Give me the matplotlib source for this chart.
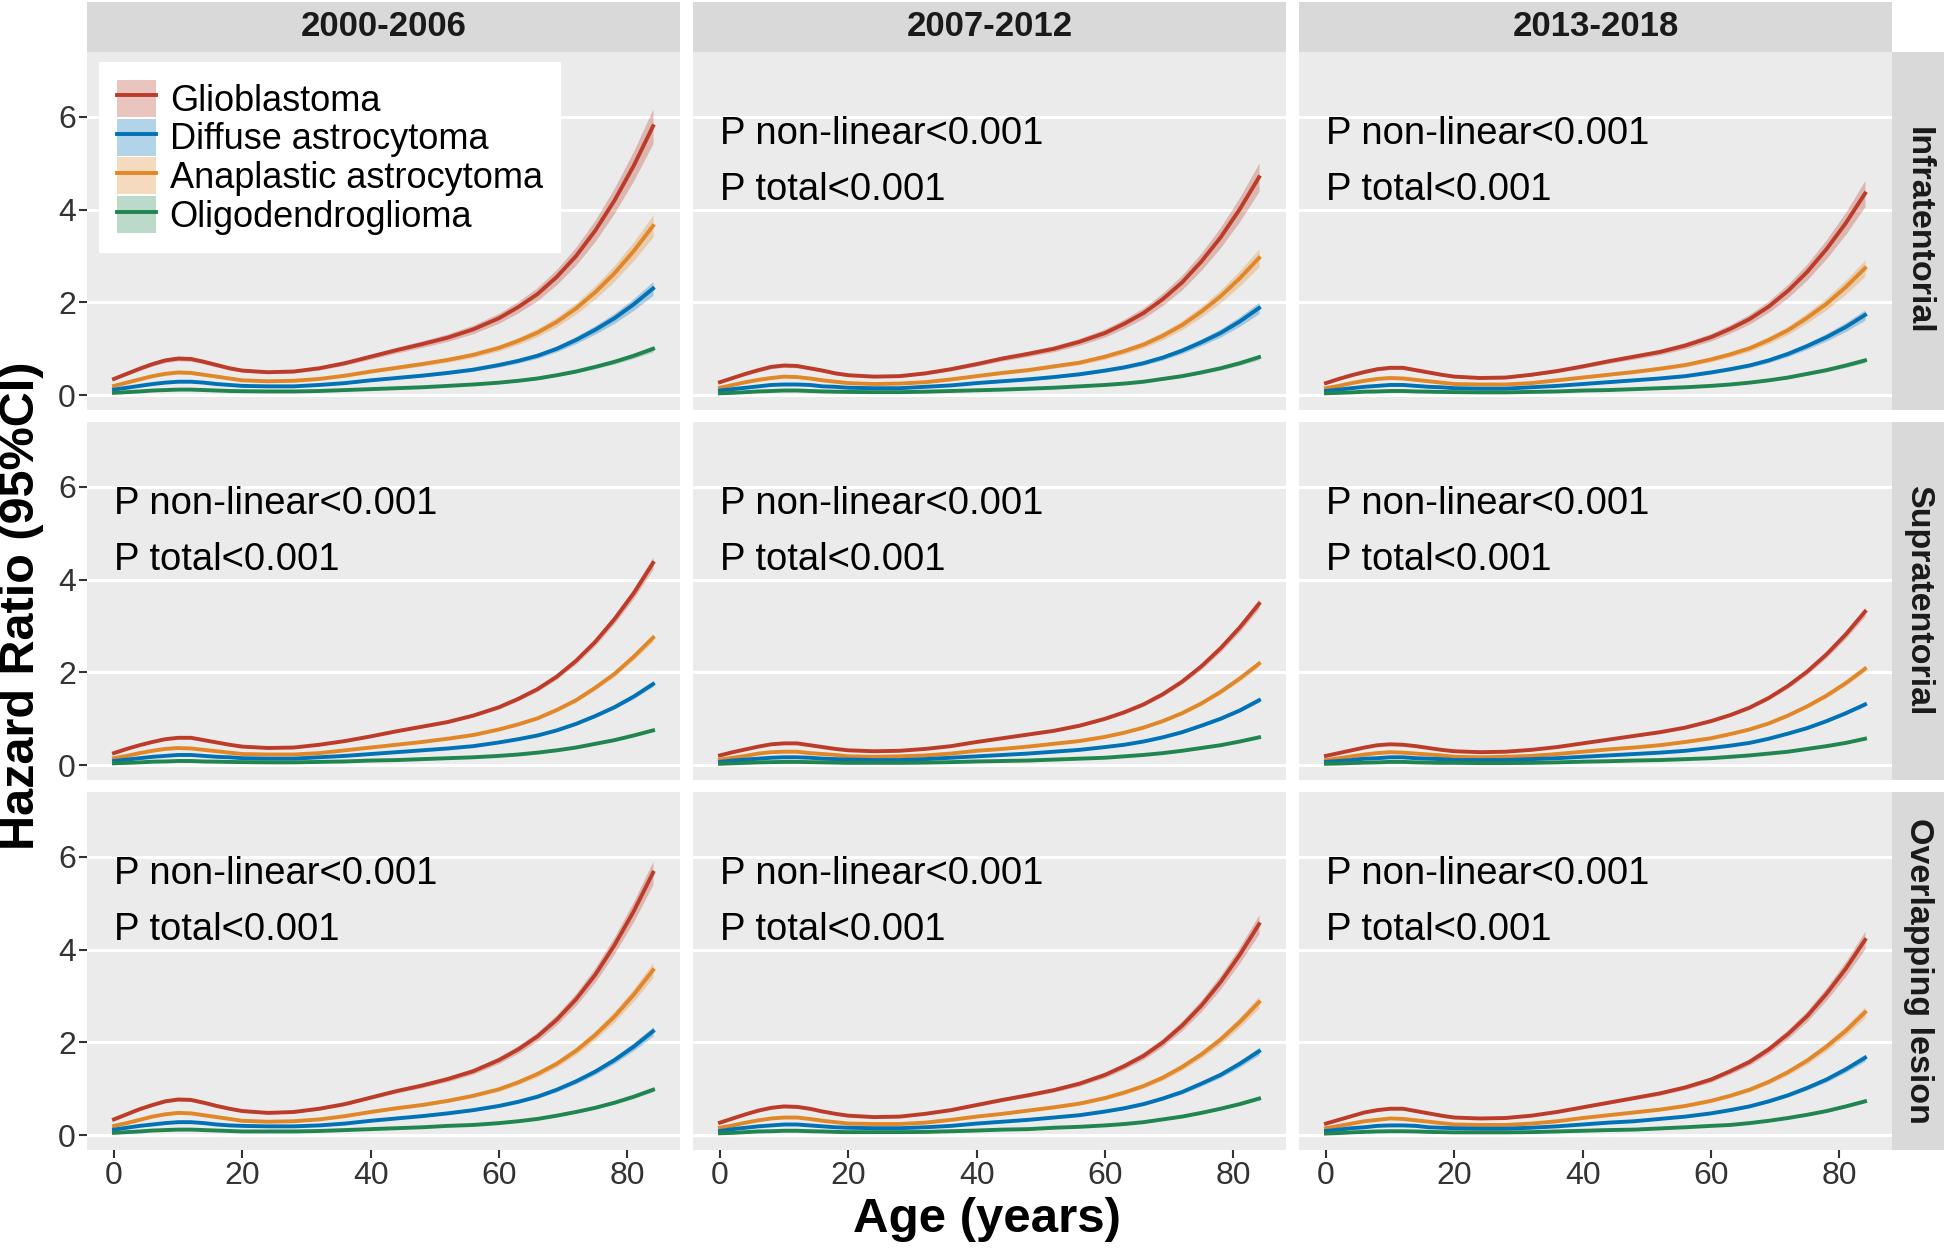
import matplotlib
matplotlib.use('Agg')
import matplotlib.pyplot as plt
from matplotlib.patches import Patch
from matplotlib.lines import Line2D
import numpy as np

plt.rcParams['font.family'] = ['Liberation Sans', 'DejaVu Sans']

# ---- data ----
ages = [0, 2, 4, 6, 8, 10, 12, 14, 16, 18, 20, 24, 28, 32, 36, 40, 44, 48, 52, 56,
        60, 63, 66, 69, 72, 75, 78, 81, 84]

periods = ['2000-2006', '2007-2012', '2013-2018']
sites = ['Infratentorial', 'Supratentorial', 'Overlapping lesion']
histologies = ['Glioblastoma', 'Diffuse astrocytoma', 'Anaplastic astrocytoma', 'Oligodendroglioma']
colors = ['#BC3C29', '#0072B5', '#E18727', '#20854E']

# Infratentorial
infra_0006_gbm = [.35, .46, .57, .67, .75, .79, .78, .72, .65, .58, .53, .495, .51, .58, .69, .83, .97, 1.10, 1.24, 1.42, 1.66, 1.90, 2.18, 2.55, 3.00, 3.55, 4.20, 4.95, 5.80]
infra_0006_da = [.12, .16, .20, .24, .27, .29, .29, .27, .24, .22, .20, .19, .19, .22, .26, .32, .37, .42, .48, .55, .65, .74, .85, 1.00, 1.19, 1.41, 1.66, 1.96, 2.30]
infra_0006_aa = [.20, .27, .34, .41, .46, .49, .48, .44, .40, .36, .32, .30, .31, .35, .42, .51, .59, .67, .76, .87, 1.02, 1.17, 1.35, 1.58, 1.87, 2.22, 2.63, 3.11, 3.65]
infra_0006_og = [.05, .065, .08, .10, .11, .12, .12, .11, .10, .09, .085, .08, .08, .09, .11, .13, .15, .17, .20, .23, .27, .31, .36, .43, .51, .61, .72, .85, 1.00]

infra_0712_gbm = [.28, .37, .46, .54, .61, .64, .63, .58, .53, .47, .43, .40, .41, .47, .56, .67, .79, .89, 1.00, 1.15, 1.34, 1.54, 1.77, 2.07, 2.43, 2.88, 3.40, 4.01, 4.70]
infra_0712_da = [.10, .13, .16, .19, .22, .23, .23, .22, .19, .18, .16, .15, .15, .18, .21, .26, .30, .34, .39, .45, .53, .60, .69, .81, .96, 1.14, 1.34, 1.59, 1.88]
infra_0712_aa = [.16, .22, .28, .33, .37, .40, .39, .36, .32, .29, .26, .24, .25, .28, .34, .41, .48, .54, .62, .70, .83, .95, 1.09, 1.28, 1.51, 1.80, 2.13, 2.52, 2.96]
infra_0712_og = [.04, .05, .065, .08, .09, .10, .10, .09, .08, .075, .07, .065, .065, .075, .09, .105, .12, .14, .16, .19, .22, .25, .29, .35, .41, .49, .58, .69, .82]

infra_1318_gbm = [.26, .35, .43, .50, .56, .59, .59, .54, .49, .44, .40, .37, .38, .44, .52, .62, .73, .83, .93, 1.07, 1.25, 1.43, 1.64, 1.91, 2.25, 2.66, 3.15, 3.71, 4.35]
infra_1318_da = [.09, .12, .15, .18, .20, .22, .22, .20, .18, .17, .15, .14, .14, .17, .20, .24, .28, .32, .36, .41, .49, .56, .64, .75, .89, 1.06, 1.25, 1.47, 1.73]
infra_1318_aa = [.15, .20, .26, .31, .35, .37, .36, .33, .30, .27, .24, .23, .23, .26, .32, .38, .44, .50, .57, .65, .77, .88, 1.01, 1.19, 1.40, 1.67, 1.97, 2.33, 2.74]
infra_1318_og = [.04, .05, .06, .075, .08, .09, .09, .08, .075, .07, .065, .06, .06, .07, .08, .10, .11, .13, .15, .17, .20, .23, .27, .32, .38, .46, .54, .64, .75]

# Supratentorial
supra_0006_gbm = [.26, .35, .43, .50, .56, .59, .59, .54, .49, .44, .40, .37, .38, .44, .52, .62, .73, .83, .93, 1.07, 1.25, 1.43, 1.64, 1.91, 2.25, 2.66, 3.15, 3.71, 4.36]
supra_0006_da = [.09, .12, .15, .18, .20, .22, .22, .20, .18, .17, .15, .14, .14, .17, .20, .24, .28, .32, .36, .41, .49, .56, .64, .75, .89, 1.06, 1.25, 1.48, 1.75]
supra_0006_aa = [.15, .20, .26, .31, .35, .37, .36, .33, .30, .27, .24, .23, .23, .26, .32, .38, .44, .50, .57, .65, .77, .88, 1.01, 1.19, 1.40, 1.67, 1.97, 2.34, 2.75]
supra_0006_og = [.04, .05, .06, .075, .08, .09, .09, .08, .075, .07, .065, .06, .06, .07, .08, .10, .11, .13, .15, .17, .20, .23, .27, .32, .38, .46, .54, .64, .75]

supra_0712_gbm = [.21, .28, .34, .40, .45, .47, .47, .43, .39, .35, .32, .30, .31, .35, .41, .50, .58, .66, .74, .85, 1.00, 1.14, 1.31, 1.53, 1.80, 2.13, 2.52, 2.97, 3.48]
supra_0712_da = [.07, .10, .12, .14, .16, .17, .17, .16, .14, .13, .12, .11, .11, .13, .16, .19, .22, .25, .29, .33, .39, .44, .51, .60, .71, .85, 1.00, 1.18, 1.40]
supra_0712_aa = [.12, .16, .20, .25, .28, .29, .29, .26, .24, .22, .19, .18, .19, .21, .25, .31, .35, .40, .46, .52, .61, .70, .81, .95, 1.12, 1.33, 1.58, 1.87, 2.19]
supra_0712_og = [.03, .04, .05, .06, .065, .07, .07, .065, .06, .055, .05, .05, .05, .055, .065, .08, .09, .10, .12, .14, .16, .19, .22, .26, .31, .37, .43, .51, .60]

supra_1318_gbm = [.20, .26, .32, .38, .43, .45, .44, .41, .37, .33, .30, .28, .29, .33, .39, .47, .55, .63, .71, .81, .95, 1.08, 1.24, 1.45, 1.71, 2.02, 2.39, 2.82, 3.31]
supra_1318_da = [.07, .09, .11, .14, .15, .17, .17, .15, .14, .13, .11, .11, .11, .13, .15, .18, .21, .24, .27, .31, .37, .42, .48, .57, .68, .80, .95, 1.12, 1.31]
supra_1318_aa = [.11, .15, .19, .23, .26, .28, .27, .25, .23, .21, .18, .17, .18, .20, .24, .29, .34, .38, .43, .50, .58, .67, .77, .90, 1.07, 1.27, 1.50, 1.77, 2.08]
supra_1318_og = [.03, .035, .045, .055, .06, .07, .07, .06, .055, .05, .05, .045, .045, .05, .06, .075, .085, .10, .11, .13, .15, .18, .21, .25, .29, .35, .41, .48, .57]

# Overlapping lesion
overl_0006_gbm = [.34, .45, .56, .65, .73, .77, .76, .70, .63, .57, .52, .48, .50, .57, .67, .81, .95, 1.07, 1.21, 1.38, 1.62, 1.85, 2.13, 2.49, 2.93, 3.46, 4.10, 4.83, 5.66]
overl_0006_da = [.12, .16, .20, .23, .26, .28, .28, .26, .23, .21, .20, .19, .19, .21, .25, .31, .36, .41, .47, .54, .63, .72, .83, .98, 1.16, 1.37, 1.62, 1.91, 2.24]
overl_0006_aa = [.20, .26, .33, .40, .45, .48, .47, .43, .39, .35, .31, .29, .30, .34, .41, .50, .58, .65, .74, .85, .99, 1.14, 1.32, 1.54, 1.82, 2.16, 2.56, 3.03, 3.56]
overl_0006_og = [.05, .065, .08, .10, .11, .12, .12, .11, .10, .09, .08, .08, .08, .09, .11, .13, .15, .17, .20, .22, .26, .30, .35, .42, .50, .59, .70, .83, .98]

overl_0712_gbm = [.27, .36, .45, .53, .59, .62, .61, .57, .51, .46, .42, .39, .40, .46, .54, .65, .76, .86, .97, 1.11, 1.30, 1.49, 1.71, 2.00, 2.36, 2.79, 3.30, 3.89, 4.55]
overl_0712_da = [.09, .13, .16, .19, .21, .23, .23, .21, .19, .17, .16, .15, .15, .17, .20, .25, .29, .33, .38, .43, .51, .58, .67, .79, .93, 1.11, 1.30, 1.54, 1.81]
overl_0712_aa = [.16, .21, .27, .32, .36, .38, .38, .35, .31, .28, .25, .24, .24, .27, .33, .40, .46, .53, .60, .68, .80, .92, 1.06, 1.24, 1.47, 1.74, 2.06, 2.44, 2.87]
overl_0712_og = [.04, .05, .065, .08, .085, .095, .095, .085, .08, .07, .065, .065, .065, .07, .085, .10, .12, .13, .16, .18, .21, .24, .28, .34, .40, .48, .57, .67, .79]

overl_1318_gbm = [.25, .33, .41, .49, .54, .57, .57, .52, .47, .42, .38, .36, .37, .42, .50, .60, .70, .80, .90, 1.03, 1.20, 1.38, 1.58, 1.85, 2.18, 2.57, 3.05, 3.59, 4.21]
overl_1318_da = [.09, .12, .15, .17, .20, .21, .21, .20, .17, .16, .15, .14, .14, .16, .19, .23, .27, .30, .35, .40, .47, .54, .62, .73, .86, 1.02, 1.20, 1.42, 1.67]
overl_1318_aa = [.15, .20, .25, .30, .33, .36, .35, .32, .29, .26, .23, .22, .22, .25, .30, .37, .43, .49, .55, .63, .74, .85, .98, 1.15, 1.36, 1.61, 1.91, 2.25, 2.65]
overl_1318_og = [.035, .045, .06, .07, .08, .085, .085, .08, .07, .065, .06, .06, .06, .065, .08, .095, .11, .12, .145, .17, .20, .22, .26, .31, .37, .44, .52, .62, .73]

# approximate 95% CI half-width, as a fraction of the HR, per site
ci_frac = [0.065, 0.03, 0.045]

p_text = ['P non-linear<0.001', 'P total<0.001']

panels = [
    [[infra_0006_gbm, infra_0006_da, infra_0006_aa, infra_0006_og],
     [infra_0712_gbm, infra_0712_da, infra_0712_aa, infra_0712_og],
     [infra_1318_gbm, infra_1318_da, infra_1318_aa, infra_1318_og]],
    [[supra_0006_gbm, supra_0006_da, supra_0006_aa, supra_0006_og],
     [supra_0712_gbm, supra_0712_da, supra_0712_aa, supra_0712_og],
     [supra_1318_gbm, supra_1318_da, supra_1318_aa, supra_1318_og]],
    [[overl_0006_gbm, overl_0006_da, overl_0006_aa, overl_0006_og],
     [overl_0712_gbm, overl_0712_da, overl_0712_aa, overl_0712_og],
     [overl_1318_gbm, overl_1318_da, overl_1318_aa, overl_1318_og]],
]

# ---- layout (pixels) ----
W, H = 1944, 1250
fig = plt.figure(figsize=(W / 100, H / 100), dpi=100)
col_x = [87, 693, 1299]
row_y = [52, 422, 792]
pw, ph = 593, 358


def box(x, y, w, h):
    return [x / W, 1 - (y + h) / H, w / W, h / H]


draw_order = [0, 2, 1, 3]  # gbm, aa, da, og

for r in range(3):
    for c in range(3):
        ax = fig.add_axes(box(col_x[c], row_y[r], pw, ph))
        ax.set_facecolor('#EBEBEB')
        for s in ax.spines.values():
            s.set_visible(False)
        ax.set_xlim(-4.2, 88.2)
        ax.set_ylim(-0.32, 7.4)
        ax.set_yticks([0, 2, 4, 6])
        ax.set_xticks([0, 20, 40, 60, 80])
        ax.grid(axis='y', color='white', lw=2.2)
        ax.set_axisbelow(True)
        ax.tick_params(length=6, width=1.5, color='#333333', labelcolor='#333333',
                       labelsize=23, pad=2)
        if c > 0:
            ax.tick_params(axis='y', labelleft=False, length=0)
        if r < 2:
            ax.tick_params(axis='x', labelbottom=False, length=0)

        series = panels[r][c]
        for k in draw_order:
            y = np.array(series[k])
            half = y * ci_frac[r]
            ax.fill_between(ages, y - half, y + half, color=colors[k], alpha=0.3, lw=0)
        for k in draw_order:
            ax.plot(ages, series[k], color=colors[k], lw=2.8, solid_joinstyle='round')

        if not (r == 0 and c == 0):
            ax.text(0, 5.63, p_text[0], fontsize=27.5, va='center', ha='left', color='black')
            ax.text(0, 4.42, p_text[1], fontsize=27.5, va='center', ha='left', color='black')

        if r == 0 and c == 0:
            handles = [(Patch(facecolor=colors[k], alpha=0.3, lw=0),
                        Line2D([], [], color=colors[k], lw=2.8)) for k in range(4)]
            leg = ax.legend(handles, histologies, loc='upper left',
                            bbox_to_anchor=(0.02, 0.972), fontsize=26,
                            frameon=True, fancybox=False, framealpha=1,
                            edgecolor='white', facecolor='white',
                            handlelength=1.08, handleheight=1.2, labelspacing=0,
                            handletextpad=0.38, borderpad=0.5, borderaxespad=0)
            leg.get_frame().set_linewidth(0)

# top strips
for c in range(3):
    sax = fig.add_axes(box(col_x[c], 2, pw, 50))
    sax.set_facecolor('#D9D9D9')
    sax.set_xticks([])
    sax.set_yticks([])
    for s in sax.spines.values():
        s.set_visible(False)
    sax.text(0.5, 0.5, periods[c], transform=sax.transAxes, ha='center', va='center',
             fontsize=25, fontweight='bold', color='#1A1A1A')

# right strips
for r in range(3):
    sax = fig.add_axes(box(1892, row_y[r], 52, ph))
    sax.set_facecolor('#D9D9D9')
    sax.set_xticks([])
    sax.set_yticks([])
    for s in sax.spines.values():
        s.set_visible(False)
    sax.text(0.5, 0.5, sites[r], transform=sax.transAxes, ha='center', va='center',
             rotation=-90, fontsize=24.5, fontweight='bold', color='#1A1A1A')

fig.text(22 / W, 1 - 606 / H, 'Hazard Ratio (95%CI)', rotation=90, ha='center', va='center',
         fontsize=35, fontweight='bold')
fig.text(987 / W, 1 - 1219 / H, 'Age (years)', ha='center', va='center',
         fontsize=35.5, fontweight='bold')

fig.savefig('out.png', dpi=100, facecolor='white')
